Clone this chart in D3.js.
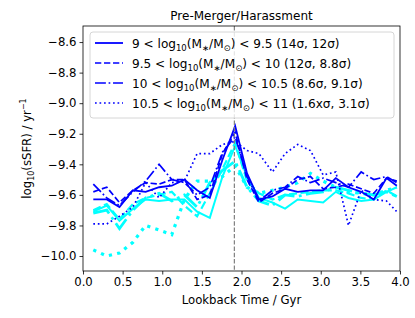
<!DOCTYPE html>
<html>
<head>
<meta charset="utf-8">
<script src="https://cdn.jsdelivr.net/npm/d3@7"></script>
<style>
  body { margin: 0; background: #fff; }
  svg { font-family: "DejaVu Sans", sans-serif; }
</style>
</head>
<body>
<svg id="chart" width="415" height="318"></svg>
<script>
// Lookback time bins (Gyr)
const times = [0.13, 0.30, 0.46, 0.63, 0.79, 0.96, 1.12, 1.28, 1.44, 1.60, 1.76, 1.92,
  2.07, 2.22, 2.39, 2.55, 2.71, 2.87, 3.03, 3.19, 3.35, 3.51, 3.67, 3.83, 3.96];

// log10(sSFR) for the blue (first) sample, one array per mass bin
const blueSolid = [-9.63, -9.63, -9.68, -9.57, -9.58, -9.55, -9.54, -9.50, -9.57, -9.62, -9.37, -9.15,
  -9.46, -9.63, -9.61, -9.56, -9.58, -9.57, -9.57, -9.49, -9.55, -9.58, -9.63, -9.49, -9.54];
const blueDashed = [-9.58, -9.55, -9.65, -9.57, -9.52, -9.53, -9.50, -9.50, -9.63, -9.60, -9.33, -9.19,
  -9.50, -9.65, -9.59, -9.56, -9.50, -9.48, -9.56, -9.55, -9.53, -9.56, -9.59, -9.49, -9.51];
const blueDashDot = [-9.53, -9.62, -9.67, -9.58, -9.51, -9.40, -9.50, -9.52, -9.60, -9.55, -9.32, -9.22,
  -9.48, -9.64, -9.57, -9.55, -9.48, -9.52, -9.49, -9.52, -9.55, -9.45, -9.50, -9.48, -9.52];
const blueDotted = [-9.79, -9.79, -9.74, -9.68, -9.52, -9.62, -9.52, -9.51, -9.33, -9.33, -9.27, -9.25,
  -9.31, -9.33, -9.45, -9.33, -9.27, -9.31, -9.47, -9.45, -9.80, -9.57, -9.63, -9.64, -9.71];

// log10(sSFR) for the cyan (second) sample
const cyanSolid = [-9.71, -9.67, -9.77, -9.69, -9.63, -9.64, -9.63, -9.63, -9.71, -9.75, -9.48, -9.28,
  -9.48, -9.62, -9.65, -9.69, -9.63, -9.64, -9.65, -9.58, -9.62, -9.64, -9.63, -9.58, -9.55];
const cyanDashed = [-9.70, -9.66, -9.76, -9.66, -9.62, -9.60, -9.58, -9.67, -9.74, -9.59, -9.43, -9.26,
  -9.51, -9.59, -9.63, -9.60, -9.59, -9.58, -9.57, -9.57, -9.59, -9.62, -9.63, -9.57, -9.61];
const cyanDashDot = [-9.72, -9.70, -9.82, -9.70, -9.62, -9.59, -9.64, -9.60, -9.68, -9.52, -9.44, -9.38,
  -9.55, -9.64, -9.67, -9.60, -9.61, -9.59, -9.58, -9.55, -9.57, -9.59, -9.60, -9.58, -9.61];
const cyanDotted = [-9.96, -10.00, -9.98, -9.91, -9.80, -9.83, -9.86, -9.63, -9.51, -9.51, -9.48, -9.41,
  -9.55, -9.59, -9.57, -9.55, -9.52, -9.46, -9.51, -9.55, -9.58, -9.59, -9.60, -9.57, -9.55];

const mergerTime = 1.91;

const legendLabels = [
  ["9", "9.5", "14σ, 12σ"],
  ["9.5", "10", "12σ, 8.8σ"],
  ["10", "10.5", "8.6σ, 9.1σ"],
  ["10.5", "11", "1.6xσ, 3.1σ"]
];

const xTicks = [0, 0.5, 1, 1.5, 2, 2.5, 3, 3.5, 4];
const yTicks = [-10.0, -9.8, -9.6, -9.4, -9.2, -9.0, -8.8, -8.6];

// =======================================================================================

const svg = d3.select("#chart");
const margin = { top: 26, right: 15, bottom: 47, left: 83 };
const width = 415 - margin.left - margin.right;
const height = 318 - margin.top - margin.bottom;

const xScale = d3.scaleLinear().domain([0, 4]).range([0, width]);
const yScale = d3.scaleLinear().domain([-10.098, -8.495]).range([height, 0]);

const g = svg.append("g")
  .attr("transform", `translate(${margin.left},${margin.top})`);

// dash patterns like matplotlib, scaled by line width
const dashFor = (style, lw) => {
  const base = { solid: null, dashed: [3.7, 1.6], dashdot: [6.4, 1.6, 1, 1.6], dotted: [1, 1.65] }[style];
  return base ? base.map(v => v * lw).join(",") : null;
};

const series = [
  { values: cyanSolid, color: "#00ffff", style: "solid", lw: 2 },
  { values: cyanDashed, color: "#00ffff", style: "dashed", lw: 2.2 },
  { values: cyanDashDot, color: "#00ffff", style: "dashdot", lw: 2.8 },
  { values: cyanDotted, color: "#00ffff", style: "dotted", lw: 3.2 },
  { values: blueSolid, color: "#0000ff", style: "solid", lw: 1.8 },
  { values: blueDashed, color: "#0000ff", style: "dashed", lw: 1.7 },
  { values: blueDashDot, color: "#0000ff", style: "dashdot", lw: 1.7 },
  { values: blueDotted, color: "#0000ff", style: "dotted", lw: 1.7 }
];

const line = d3.line()
  .x((d, i) => xScale(times[i]))
  .y(d => yScale(d));

const plot = g.append("g");
series.forEach(s => {
  plot.append("path")
    .datum(s.values)
    .attr("fill", "none")
    .attr("stroke", s.color)
    .attr("stroke-width", s.lw)
    .attr("stroke-dasharray", dashFor(s.style, s.lw))
    .attr("d", line);
});

// merger time marker
plot.append("line")
  .attr("x1", xScale(mergerTime)).attr("x2", xScale(mergerTime))
  .attr("y1", 0).attr("y2", height)
  .attr("stroke", "#808080")
  .attr("stroke-width", 1.2)
  .attr("stroke-dasharray", "4.4,1.9");

// axes
const xAxis = g.append("g")
  .attr("transform", `translate(0,${height})`)
  .call(d3.axisBottom(xScale).tickValues(xTicks).tickFormat(d3.format(".1f")).tickSize(3.5).tickPadding(3));
const yAxis = g.append("g")
  .call(d3.axisLeft(yScale).tickValues(yTicks).tickFormat(d => d3.format(".1f")(d).replace("-", "\u2212")).tickSize(3.5).tickPadding(3));

[xAxis, yAxis].forEach(a => {
  a.selectAll("text").attr("font-size", 11.7).attr("fill", "#000").attr("font-family", "DejaVu Sans");
  a.selectAll("line").attr("stroke", "#000").attr("stroke-width", 0.8);
  a.select(".domain").remove();
});

// frame
g.append("rect")
  .attr("width", width).attr("height", height)
  .attr("fill", "none").attr("stroke", "#000").attr("stroke-width", 0.8);

// title and axis labels
svg.append("text")
  .attr("x", margin.left + width / 2).attr("y", 20)
  .attr("text-anchor", "middle").attr("font-size", 12)
  .text("Pre-Merger/Harassment");

svg.append("text")
  .attr("x", margin.left + width / 2).attr("y", 304)
  .attr("text-anchor", "middle").attr("font-size", 11.7)
  .text("Lookback Time / Gyr");

const ylab = svg.append("text")
  .attr("transform", `translate(31,${margin.top + height / 2}) rotate(-90)`)
  .attr("text-anchor", "middle").attr("font-size", 11.7);
ylab.append("tspan").text("log");
ylab.append("tspan").attr("font-size", 8).attr("dy", 3).text("10");
ylab.append("tspan").attr("dy", -3).text("(sSFR) / yr");
ylab.append("tspan").attr("font-size", 8).attr("dy", -5).text("\u22121");

// legend
const legend = svg.append("g").attr("transform", "translate(90,32)");
legend.append("rect")
  .attr("width", 304).attr("height", 86).attr("rx", 3)
  .attr("fill", "#fff").attr("fill-opacity", 0.8)
  .attr("stroke", "#cccccc").attr("stroke-width", 0.8);

const blueSeries = series.slice(4);
legendLabels.forEach((lab, i) => {
  const y = 11 + i * 20;
  legend.append("line")
    .attr("x1", 5).attr("x2", 33).attr("y1", y).attr("y2", y)
    .attr("stroke", blueSeries[i].color)
    .attr("stroke-width", blueSeries[i].lw)
    .attr("stroke-dasharray", dashFor(blueSeries[i].style, blueSeries[i].lw));
  const t = legend.append("text")
    .attr("x", 42).attr("y", y + 4.5).attr("font-size", 12.1);
  t.append("tspan").text(`${lab[0]} < log`);
  t.append("tspan").attr("font-size", 8.5).attr("dy", 3).text("10");
  t.append("tspan").attr("dy", -3).text("(M");
  t.append("tspan").attr("font-size", 8.5).attr("dy", 3).text("\u2217");
  t.append("tspan").attr("dy", -3).text("/M");
  t.append("tspan").attr("font-size", 8.5).attr("dy", 3).text("\u2299");
  t.append("tspan").attr("dy", -3).text(`) < ${lab[1]} (${lab[2]})`);
});
</script>
</body>
</html>
